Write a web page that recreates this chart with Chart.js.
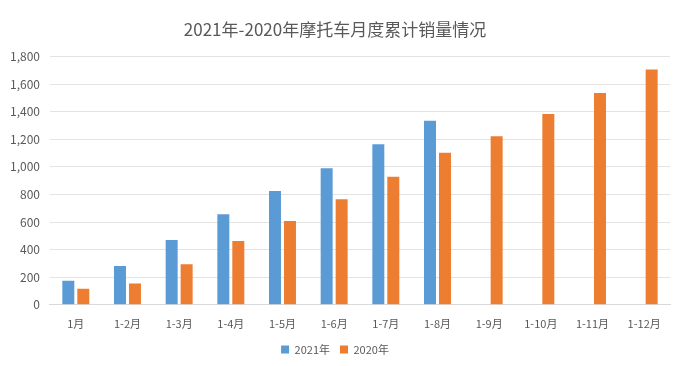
<!DOCTYPE html>
<html>
<head>
<meta charset="utf-8">
<script src="https://cdn.jsdelivr.net/npm/chart.js@4/dist/chart.umd.min.js"></script>
<style>
html,body{margin:0;padding:0;background:#fff;}
#wrap{width:680px;height:366px;}
</style>
</head>
<body>
<div id="wrap"><canvas id="c" width="680" height="366"></canvas></div>
<script>
const categories = ['1月','1-2月','1-3月','1-4月','1-5月','1-6月','1-7月','1-8月','1-9月','1-10月','1-11月','1-12月'];
const sales2021 = [175, 282, 470, 656, 825, 990, 1164, 1333, null, null, null, null];
const sales2020 = [116, 154, 294, 463, 607, 764, 928, 1101, 1222, 1383, 1535, 1705];
const seriesNames = ['2021年', '2020年'];
const chartTitle = '2021年-2020年摩托车月度累计销量情况';

const FONT = "'Noto Sans CJK SC', 'Noto Sans', sans-serif";
new Chart(document.getElementById('c'), {
  type: 'bar',
  data: {
    labels: categories,
    datasets: [
      { label: seriesNames[0], data: sales2021, backgroundColor: '#5B9BD5', barPercentage: 0.8, categoryPercentage: 0.58 },
      { label: seriesNames[1], data: sales2020, backgroundColor: '#ED7D31', barPercentage: 0.8, categoryPercentage: 0.58 }
    ]
  },
  options: {
    responsive: false,
    animation: false,
    layout: { padding: { left: 0, right: 10, top: 0, bottom: 1 } },
    plugins: {
      title: {
        display: true, text: chartTitle, color: '#595959',
        font: { family: FONT, size: 17, weight: 'normal' },
        padding: { top: 19, bottom: 17 }
      },
      legend: {
        position: 'bottom',
        labels: {
          color: '#595959', boxWidth: 8, boxHeight: 8, padding: 10,
          font: { family: FONT, size: 11 }
        }
      },
      tooltip: { enabled: false }
    },
    scales: {
      x: {
        grid: { display: false },
        border: { color: '#d9d9d9' },
        ticks: { color: '#595959', font: { family: FONT, size: 11 }, padding: 4, maxRotation: 0 }
      },
      y: {
        min: 0, max: 1800,
        grid: { color: '#e3e3e3', drawTicks: false },
        border: { display: false },
        ticks: { stepSize: 200, color: '#595959', font: { family: FONT, size: 12 }, padding: 10 }
      }
    }
  }
});
</script>
</body>
</html>
